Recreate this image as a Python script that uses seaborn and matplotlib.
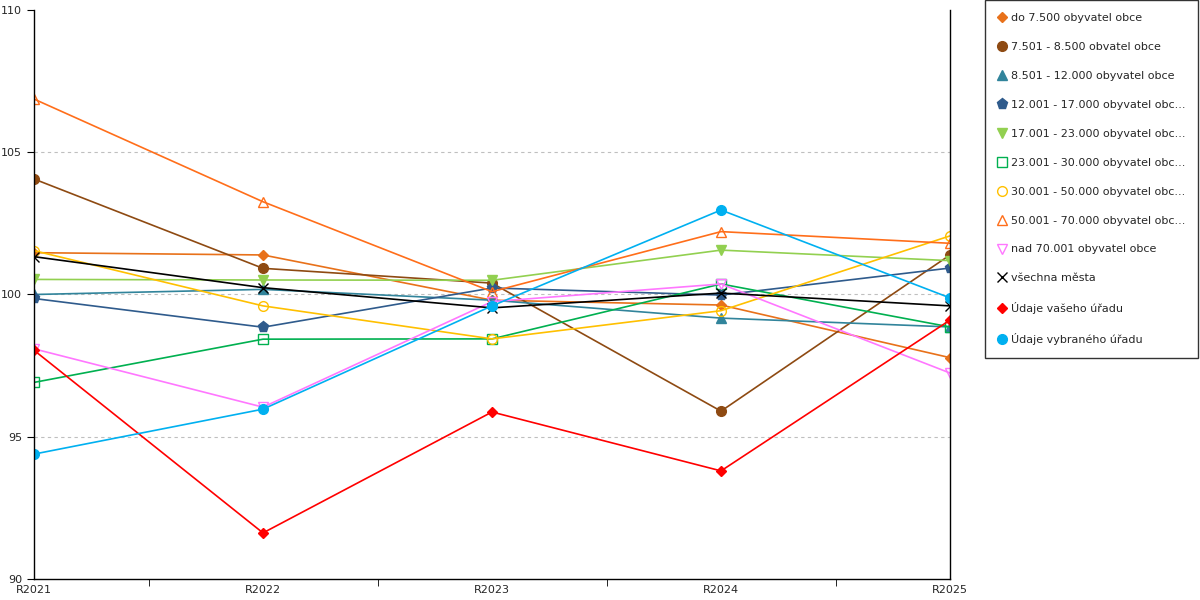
import pandas as pd
import seaborn as sns
import matplotlib.pyplot as plt
from matplotlib.lines import Line2D
from matplotlib.ticker import MultipleLocator

# -----------------------------------------------------------------------------
# DATA
# -----------------------------------------------------------------------------
years = ["R2021", "R2022", "R2023", "R2024", "R2025"]

labels = ["do 7.500 obyvatel obce",
          "7.501 - 8.500 obvatel obce",
          "8.501 - 12.000 obyvatel obce",
          "12.001 - 17.000 obyvatel obc...",
          "17.001 - 23.000 obyvatel obc...",
          "23.001 - 30.000 obyvatel obc...",
          "30.001 - 50.000 obyvatel obc...",
          "50.001 - 70.000 obyvatel obc...",
          "nad 70.001 obyvatel obce",
          "všechna města",
          "Údaje vašeho úřadu",
          "Údaje vybraného úřadu"]

do_7500     = [101.47, 101.39, 99.80, 99.63, 97.78]
do_8500     = [104.06, 100.92, 100.40, 95.90, 101.39]
do_12000    = [100.00, 100.18, 99.80, 99.17, 98.86]
do_17000    = [99.86, 98.85, 100.23, 99.98, 100.93]
do_23000    = [100.53, 100.51, 100.50, 101.56, 101.19]
do_30000    = [96.91, 98.43, 98.44, 100.37, 98.86]
do_50000    = [101.54, 99.60, 98.44, 99.43, 102.06]
do_70000    = [106.87, 103.26, 100.10, 102.21, 101.80]
nad_70001   = [98.09, 96.04, 99.75, 100.37, 97.24]
vsechna     = [101.33, 100.24, 99.53, 100.05, 99.60]
vas_urad    = [98.04, 91.62, 95.87, 93.80, 99.10]
vybrany     = [94.39, 95.97, 99.60, 102.97, 99.88]

series = [do_7500, do_8500, do_12000, do_17000, do_23000, do_30000,
          do_50000, do_70000, nad_70001, vsechna, vas_urad, vybrany]

# styles: (color, marker, filled, markersize)
styles = [("#E8711A", "D", True, 5.5),
          ("#8E4A12", "o", True, 7),
          ("#31849B", "^", True, 7),
          ("#2F5B8C", "p", True, 8),
          ("#92D050", "v", True, 7),
          ("#00B050", "s", False, 7),
          ("#FFC000", "o", False, 7),
          ("#FF6E1A", "^", False, 7),
          ("#FF77FF", "v", False, 7),
          ("#000000", "x", True, 7),
          ("#FF0000", "D", True, 5.5),
          ("#00B0F0", "o", True, 7)]

rows = []
for name, vals in zip(labels, series):
    for i, v in enumerate(vals):
        rows.append({"serie": name, "x": i, "value": v})
df = pd.DataFrame(rows)

# -----------------------------------------------------------------------------
# PLOT
# -----------------------------------------------------------------------------
sns.set_style("white")
plt.rcParams['font.family'] = ['DejaVu Sans']

fig = plt.figure(figsize=(12, 6), dpi=100)
ax = fig.add_axes([34 / 1200, 21 / 600, 916 / 1200, 569 / 600])

handles = []
for name, (col, mk, filled, ms) in zip(labels, styles):
    sub = df[df["serie"] == name]
    face = col if filled else "none"
    sns.lineplot(data=sub, x="x", y="value", ax=ax, color=col, linewidth=1.2,
                 marker=mk, markersize=ms, markerfacecolor=face,
                 markeredgecolor=col, markeredgewidth=1.0, legend=False)
    handles.append(Line2D([], [], linestyle="none", marker=mk, markersize=ms,
                          markerfacecolor=face, markeredgecolor=col,
                          markeredgewidth=1.0, label=name))

ax.set_xlim(0, 4)
ax.set_ylim(90, 110)
ax.set_xticks(range(len(years)))
ax.set_xticklabels(years, fontsize=8)
ax.xaxis.set_minor_locator(MultipleLocator(0.5))
ax.tick_params(axis="x", which="major", length=0, pad=4)
ax.tick_params(axis="x", which="minor", length=5, color="black", bottom=True)
ax.set_yticks([90, 95, 100, 105, 110])
ax.tick_params(axis="y", length=5, color="black", labelsize=8, left=True)
ax.set_xlabel("")
ax.set_ylabel("")

for y in [95, 100, 105]:
    ax.axhline(y, color="#BFBFBF", linestyle=(0, (3, 3)), linewidth=0.8, zorder=0)

for side in ["left", "bottom", "right"]:
    ax.spines[side].set_color("black")
    ax.spines[side].set_linewidth(1.0)
ax.spines["top"].set_visible(False)

leg = fig.legend(handles=handles, loc="upper left",
                 bbox_to_anchor=(985 / 1200, 1.0), fontsize=8,
                 frameon=True, fancybox=False, edgecolor="black",
                 labelspacing=1.7, handlelength=0.6, handletextpad=0.5,
                 borderpad=1.2, borderaxespad=0)
leg.get_frame().set_linewidth(1.0)

fig.savefig("out.png", dpi=100)
